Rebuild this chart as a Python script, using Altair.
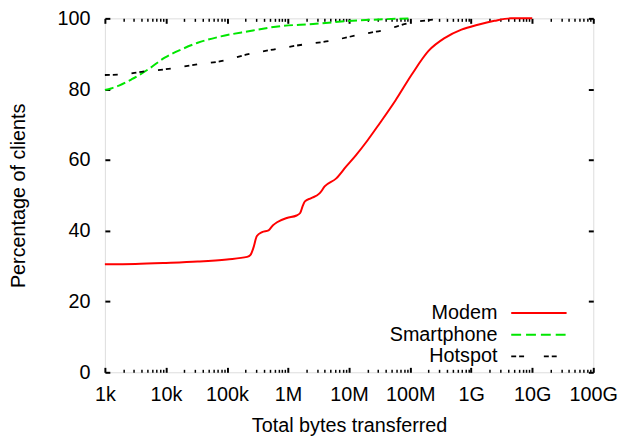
import altair as alt
import pandas as pd

FONT = "Liberation Sans"

# ---- data (bytes, percentage of clients) ----
modem_x = [1.0e3, 3.16e3, 1.0e4, 3.31e4, 1.0e5, 2.14e5, 2.43e5, 2.69e5, 3.09e5, 3.76e5,
           4.79e5, 5.62e5, 6.61e5, 9.55e5, 1.38e6, 1.58e6, 1.74e6, 1.89e6, 2.4e6, 3.31e6,
           3.98e6, 6.17e6, 8.91e6, 1.29e7, 2.0e7, 3.16e7, 5.75e7, 1.07e8, 2.0e8, 3.72e8,
           6.92e8, 1.29e9, 2.4e9, 4.47e9, 1.0e10]
modem_y = [30.5, 30.6, 30.9, 31.3, 31.9, 32.6, 33.2, 35.0, 38.5, 39.6,
           40.1, 41.5, 42.4, 43.6, 44.3, 45.0, 47.0, 48.3, 49.2, 50.6,
           52.5, 54.8, 58.1, 61.3, 65.5, 70.3, 76.8, 84.2, 90.8, 94.5,
           96.8, 98.2, 99.3, 100.0, 100.0]

smart_x = [1.0e3, 1.26e3, 1.7e3, 2.75e3, 5.13e3, 9.55e3, 1.78e4, 3.31e4, 7.94e4, 2.14e5,
           7.41e5, 2.57e6, 8.91e6, 3.09e7, 1.07e8]
smart_y = [79.8, 80.2, 81.0, 82.8, 85.6, 88.9, 91.2, 93.1, 94.9, 96.3,
           97.8, 98.4, 99.2, 99.7, 100.0]

hot_x = [1.0e3, 2.0e3, 3.98e3, 9.55e3, 3.31e4, 7.94e4, 2.14e5, 5.75e5, 1.78e6, 4.79e6,
         1.48e7, 3.98e7, 9.55e7, 2.0e8, 3.98e8]
hot_y = [84.0, 84.2, 84.9, 85.6, 87.0, 87.9, 89.8, 91.2, 92.6, 93.6,
         95.4, 96.8, 98.7, 99.5, 100.0]

series_names = ["Modem", "Smartphone", "Hotspot"]

# ---- axis ticks ----
x_tick_values = [1e3, 1e4, 1e5, 1e6, 1e7, 1e8, 1e9, 1e10, 1e11]
x_tick_labels = ["1k", "10k", "100k", "1M", "10M", "100M", "1G", "10G", "100G"]
x_minor_mult = [2, 3, 4, 5, 6, 7, 8, 9]
x_minor_values = [m * d for d in x_tick_values[:-1] for m in x_minor_mult]
y_tick_values = [0, 20, 40, 60, 80, 100]

label_expr = "''"
for v, lab in reversed(list(zip(x_tick_values, x_tick_labels))):
    label_expr = f"datum.value == {int(v)} ? '{lab}' : ({label_expr})"

W, H = 494, 358
GREEN = "#00e600"
GREEN_DASH = [9, 4]
BLACK_DASH = [5, 3, 5, 14]

df_modem = pd.DataFrame({"bytes": modem_x, "pct": modem_y})
df_smart = pd.DataFrame({"bytes": smart_x, "pct": smart_y})
df_hot = pd.DataFrame({"bytes": hot_x, "pct": hot_y})

xscale = alt.Scale(type="log", domain=[1e3, 1e11], nice=False)
yscale = alt.Scale(domain=[0, 100], nice=False)

ax_bottom_major = alt.Axis(orient="bottom", values=x_tick_values, labelExpr=label_expr,
                           offset=-5, tickSize=5, tickWidth=2, domain=False, grid=False,
                           labelPadding=13, labelFontSize=20, labelFont=FONT, labelColor="black",
                           labelFlush=False, labelOverlap=False, labelBound=False,
                           labelAlign="center",
                           title="Total bytes transferred", titleFontSize=20, titleFont=FONT,
                           titleFontWeight="normal", titleColor="black", titleY=49,
                           titleBaseline="top", tickColor="black")
ax_bottom_minor = alt.Axis(orient="bottom", values=x_minor_values, labels=False, title=None,
                           offset=-3, tickSize=3, tickWidth=1.5, domain=False, grid=False,
                           tickColor="black")
ax_top_major = alt.Axis(orient="top", values=x_tick_values, labels=False, title=None,
                        offset=-5, tickSize=5, tickWidth=2, domain=False, grid=False,
                        tickColor="black")
ax_top_minor = alt.Axis(orient="top", values=x_minor_values, labels=False, title=None,
                        offset=-3, tickSize=3, tickWidth=1.5, domain=False, grid=False,
                        tickColor="black")
ax_left = alt.Axis(orient="left", values=y_tick_values, offset=-5, tickSize=5, tickWidth=2,
                   domain=False, grid=False, labelPadding=15, labelFontSize=20, labelFont=FONT,
                   labelColor="black", labelFlush=False, labelOverlap=False, labelBound=False,
                   title="Percentage of clients", titleFontSize=20,
                   titleFont=FONT, titleFontWeight="normal", titleColor="black",
                   titleX=-82, titleY=H / 2, tickColor="black")
ax_right = alt.Axis(orient="right", values=y_tick_values, labels=False, title=None,
                    offset=-5, tickSize=5, tickWidth=2, domain=False, grid=False,
                    tickColor="black")

modem = alt.Chart(df_modem).mark_line(color="#ff0000", strokeWidth=2, interpolate="monotone").encode(
    x=alt.X("bytes:Q", scale=xscale, axis=ax_bottom_major),
    y=alt.Y("pct:Q", scale=yscale, axis=ax_left),
)
smart = alt.Chart(df_smart).mark_line(color=GREEN, strokeWidth=2, strokeDash=GREEN_DASH,
                                      interpolate="monotone").encode(
    x=alt.X("bytes:Q", scale=xscale, axis=ax_bottom_minor),
    y=alt.Y("pct:Q", scale=yscale, axis=ax_right),
)
hot = alt.Chart(df_hot).mark_line(color="black", strokeWidth=1.8, strokeDash=BLACK_DASH,
                                  interpolate="monotone").encode(
    x=alt.X("bytes:Q", scale=xscale, axis=ax_top_major),
    y=alt.Y("pct:Q", scale=yscale, axis=None),
)
hot_ghost = alt.Chart(df_hot).mark_line(strokeOpacity=0).encode(
    x=alt.X("bytes:Q", scale=xscale, axis=ax_top_minor),
    y=alt.Y("pct:Q", scale=yscale, axis=None),
)

# ---- legend (gnuplot style: label left, sample right) ----
leg_styles = [
    dict(color="#ff0000", strokeWidth=2),
    dict(color=GREEN, strokeWidth=2, strokeDash=[10, 5]),
    dict(color="black", strokeWidth=1.8, strokeDash=[5, 3, 5, 20]),
]
leg_rows_y = [298, 320, 342]
legend_layers = []
for name, style, ly in zip(series_names, leg_styles, leg_rows_y):
    d = pd.DataFrame({"label": [name]})
    legend_layers.append(
        alt.Chart(d).mark_text(align="right", baseline="middle", fontSize=20, font=FONT,
                               color="black").encode(
            x=alt.value(397), y=alt.value(ly), text="label:N")
    )
    legend_layers.append(
        alt.Chart(d).mark_rule(**style).encode(
            x=alt.value(411), x2=alt.value(467), y=alt.value(ly))
    )

chart = alt.layer(modem, smart, hot, hot_ghost, *legend_layers).resolve_axis(
    x="independent", y="independent"
).properties(
    width=W, height=H,
    autosize=alt.AutoSizeParams(type="none"),
    padding={"left": 98, "top": 8, "right": 25, "bottom": 66},
).configure_view(
    stroke="black", strokeWidth=2
).configure(background="white")

chart.save("out.html", embed_options={"renderer": "svg", "actions": False})
